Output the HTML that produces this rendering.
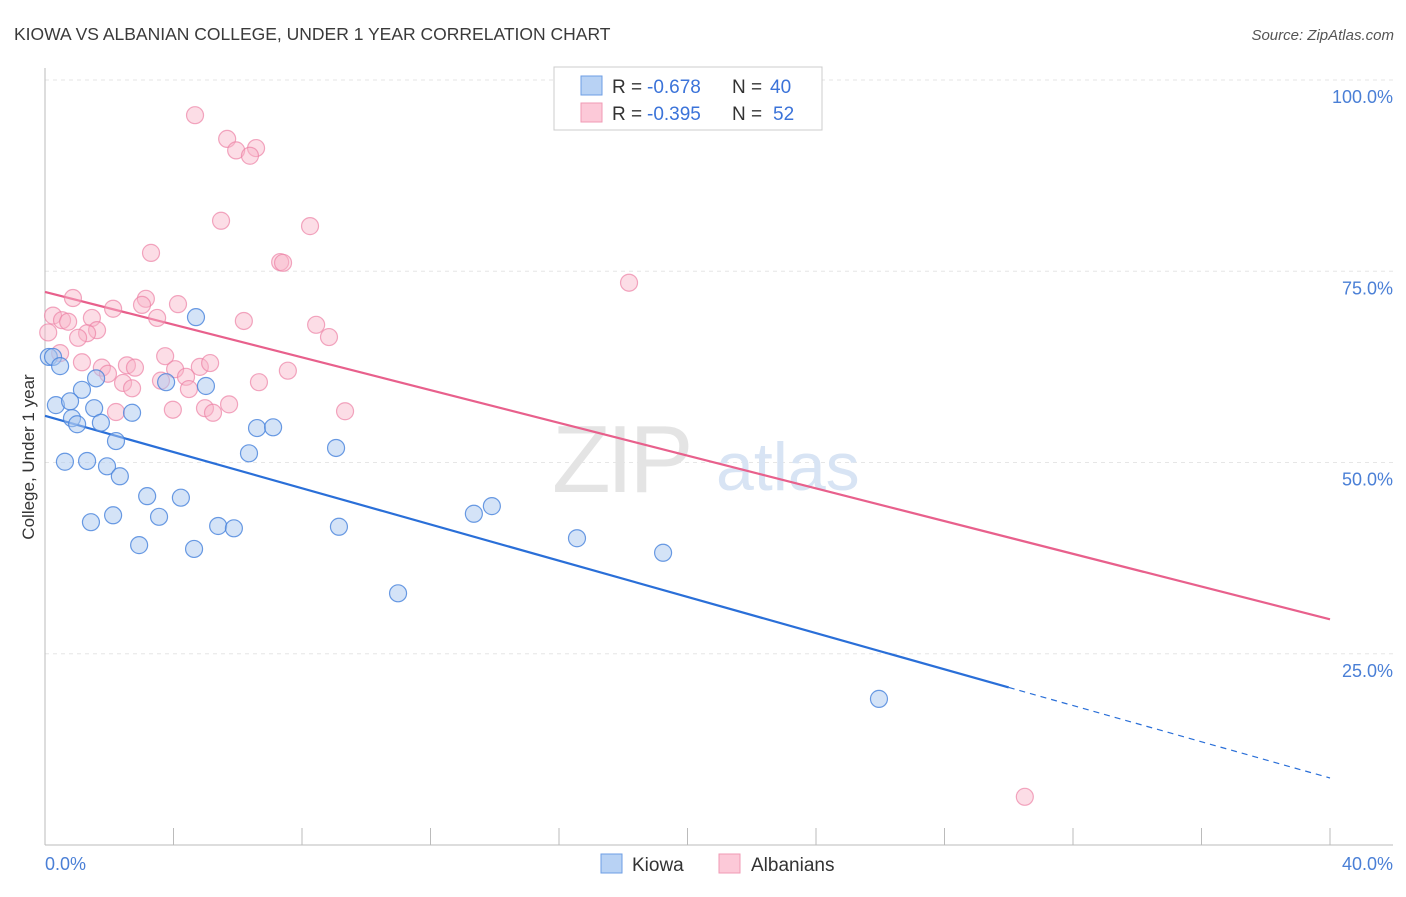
<!DOCTYPE html>
<html><head><meta charset="utf-8"><style>
body{margin:0;background:#fff;font-family:"Liberation Sans",sans-serif;}
svg text{font-family:"Liberation Sans",sans-serif;}
</style></head><body>
<svg id="chart" width="1406" height="892" xmlns="http://www.w3.org/2000/svg">
<text x="14" y="40" font-size="17.5" fill="#3a3a3a">KIOWA VS ALBANIAN COLLEGE, UNDER 1 YEAR CORRELATION CHART</text>
<text x="1394" y="40" font-size="15" fill="#555" text-anchor="end" font-style="italic">Source: ZipAtlas.com</text>
<g id="grid"></g>
<g><text x="552" y="492" font-size="96" fill="#e4e4e4" font-family="Liberation Serif" letter-spacing="-4">ZIP</text><text x="716" y="490" font-size="68" fill="#d8e4f4">atlas</text></g>
<line x1="45" y1="845" x2="1393" y2="845" stroke="#bbb"/>
<line x1="45" y1="68" x2="45" y2="845" stroke="#bbb"/>
<text transform="translate(34,457) rotate(-90)" font-size="17" fill="#333" text-anchor="middle">College, Under 1 year</text>
<text x="45" y="870" font-size="18" fill="#4a7fd6">0.0%</text>
<text x="1393" y="870" font-size="18" fill="#4a7fd6" text-anchor="end">40.0%</text>
<g id="lines"></g>
<g id="pts"></g>
<g>
<rect x="554" y="67" width="268" height="63" fill="#fff" stroke="#ccc"/>
<rect x="581" y="76" width="21" height="19" fill="#b8d2f4" stroke="#6d9ee4"/>
<rect x="581" y="103" width="21" height="19" fill="#fcc9d8" stroke="#f09ab4"/>
<text x="612" y="93" font-size="19" fill="#333">R =</text>
<text x="647" y="93" font-size="19" fill="#3b73d9">-0.678</text>
<text x="732" y="93" font-size="19" fill="#333">N =</text>
<text x="770" y="93" font-size="19" fill="#3b73d9">40</text>
<text x="612" y="120" font-size="19" fill="#333">R =</text>
<text x="647" y="120" font-size="19" fill="#3b73d9">-0.395</text>
<text x="732" y="120" font-size="19" fill="#333">N =</text>
<text x="773" y="120" font-size="19" fill="#3b73d9">52</text>
</g>
<g>
<rect x="601" y="854" width="21" height="19" fill="#b8d2f4" stroke="#6d9ee4"/>
<text x="632" y="871" font-size="19" fill="#333">Kiowa</text>
<rect x="719" y="854" width="21" height="19" fill="#fcc9d8" stroke="#f09ab4"/>
<text x="751" y="871" font-size="19" fill="#333">Albanians</text>
</g>
</svg>
<script>
const yTicks=[25,50,75,100];
const yTickLabels=["25.0%","50.0%","75.0%","100.0%"];
const xTicks=[0,4,8,12,16,20,24,28,32,36,40];
const kiowaX=[0.12,0.25,0.47,4.70,1.59,1.15,3.77,5.01,0.34,0.78,1.53,0.84,1.00,1.74,2.71,2.21,6.60,7.10,6.35,9.06,0.62,1.31,1.93,2.33,3.18,4.23,1.43,2.12,3.55,5.39,5.88,9.15,2.93,4.64,13.35,13.91,16.56,19.24,10.99,25.96];
const kiowaY=[63.8,63.8,62.6,69.0,61.0,59.5,60.5,60.0,57.5,58.0,57.1,55.8,55.0,55.2,56.5,52.8,54.5,54.6,51.2,51.9,50.1,50.2,49.5,48.2,45.6,45.4,42.2,43.1,42.9,41.7,41.4,41.6,39.2,38.7,43.3,44.3,40.1,38.2,32.9,19.1];
const albX=[4.67,5.67,5.95,6.57,6.38,5.48,8.25,3.30,7.32,7.41,18.18,0.87,3.14,3.02,4.14,2.12,3.49,6.19,0.25,0.53,0.72,1.46,8.44,1.62,1.31,1.03,8.84,0.10,0.47,3.74,1.15,2.55,1.77,2.80,4.05,4.82,5.14,7.56,1.96,4.39,2.43,3.61,6.66,2.71,4.48,5.73,3.98,4.98,5.23,9.34,2.21,30.50];
const albY=[95.4,92.3,90.8,91.1,90.1,81.6,80.9,77.4,76.2,76.1,73.5,71.5,71.4,70.6,70.7,70.1,68.9,68.5,69.2,68.6,68.4,68.9,68.0,67.3,66.9,66.3,66.4,67.0,64.3,63.9,63.1,62.7,62.4,62.4,62.2,62.5,63.0,62.0,61.6,61.2,60.4,60.7,60.5,59.7,59.6,57.6,56.9,57.1,56.5,56.7,56.6,6.3];
const kiowaTrend=[56.1,8.76];
const albTrend=[72.3,29.5];
const kiowaSolidEnd=30.0;
const NS="http://www.w3.org/2000/svg";
const sx=v=>45+v/40*1285, sy=v=>845-v/100*765;
function mk(t,a,p){const e=document.createElementNS(NS,t);for(const k in a)e.setAttribute(k,a[k]);p.appendChild(e);return e;}
const grid=document.getElementById('grid');
yTicks.forEach((t,i)=>{
 const l=mk('line',{x1:45,x2:1393,y1:sy(t),y2:sy(t),stroke:'#e6e6e6','stroke-dasharray':'4,4'},grid);
 
 
 const tx=mk('text',{x:1393,y:sy(t)+23,'font-size':18,fill:'#4a7fd6','text-anchor':'end'},grid);
 tx.textContent=yTickLabels[i];
 
 
});
xTicks.forEach(t=>{
 const l=mk('line',{x1:sx(t),x2:sx(t),y1:828,y2:845,stroke:'#bbb'},grid);
 
 
});
const pts=document.getElementById('pts');
albX.forEach((x,i)=>{
 const c=mk('circle',{cx:sx(x),cy:sy(albY[i]),r:8.5,fill:'rgba(248,180,200,0.45)',stroke:'rgba(236,130,165,0.7)','stroke-width':1.2},pts);
 
 
});
kiowaX.forEach((x,i)=>{
 const c=mk('circle',{cx:sx(x),cy:sy(kiowaY[i]),r:8.5,fill:'rgba(170,200,240,0.5)',stroke:'rgba(70,130,220,0.8)','stroke-width':1.2},pts);
 
 
});
const lines=document.getElementById('lines');
const kf=x=>kiowaTrend[0]+(kiowaTrend[1]-kiowaTrend[0])*x/40;
let l1=mk('line',{x1:sx(0),y1:sy(kf(0)),x2:sx(kiowaSolidEnd),y2:sy(kf(kiowaSolidEnd)),stroke:'#2a6fd8','stroke-width':2.2},lines);


let l2=mk('line',{x1:sx(kiowaSolidEnd),y1:sy(kf(kiowaSolidEnd)),x2:sx(40),y2:sy(kf(40)),stroke:'#2a6fd8','stroke-width':1.2,'stroke-dasharray':'6,5'},lines);


let l3=mk('line',{x1:sx(0),y1:sy(albTrend[0]),x2:sx(40),y2:sy(albTrend[1]),stroke:'#e8608c','stroke-width':2.2},lines);


</script>
</body></html>
